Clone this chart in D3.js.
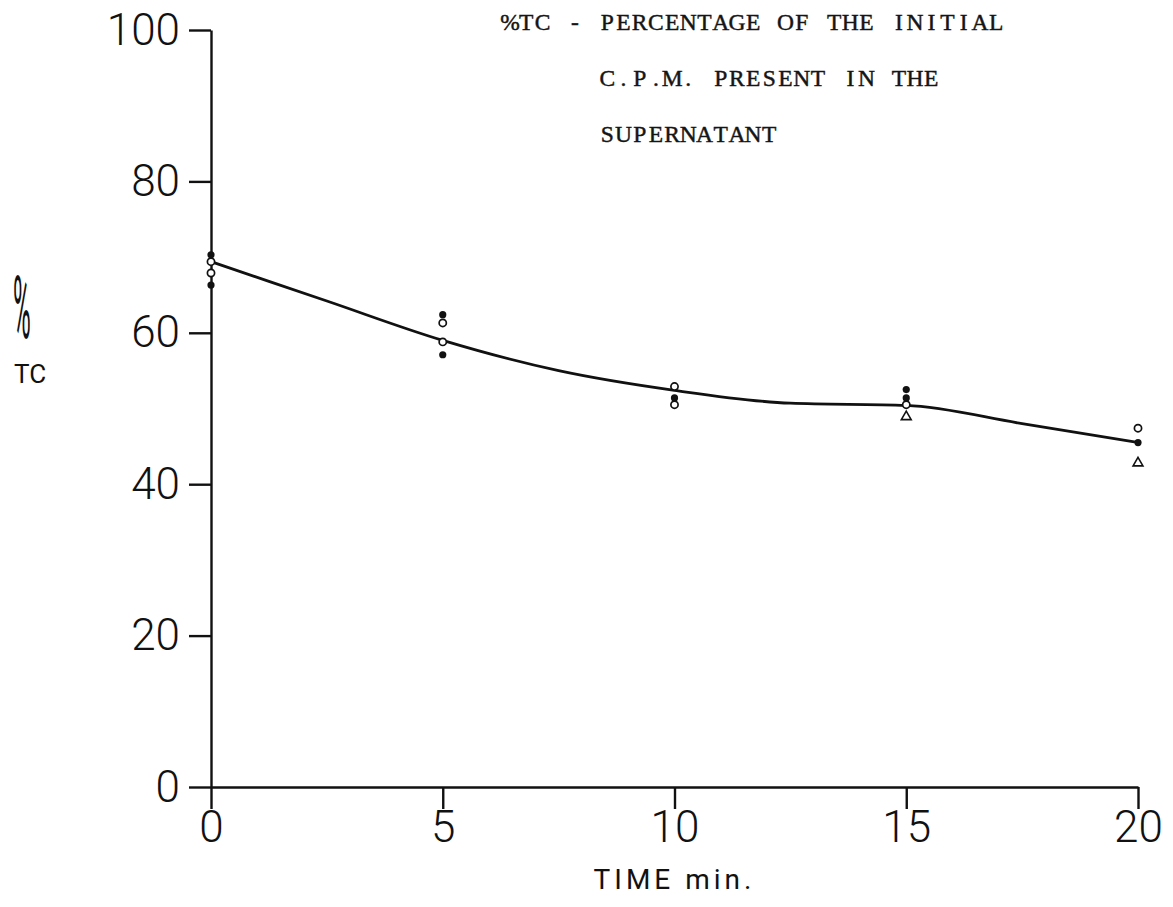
<!DOCTYPE html>
<html>
<head>
<meta charset="utf-8">
<script src="https://cdn.jsdelivr.net/npm/d3@7/dist/d3.min.js"></script>
<style>
  html, body { margin: 0; padding: 0; background: #ffffff; }
  svg { display: block; }
</style>
</head>
<body>
<script>
// Time axis (minutes) and %TC axis ticks
const timeTicks = [0, 5, 10, 15, 20];
const tcTicks = [0, 20, 40, 60, 80, 100];

// Replicate measurements, grouped by the symbol used for each
const filledPoints = [[0, 70.3], [0, 66.3], [5, 62.4], [5, 57.1], [10, 51.4], [15, 52.5], [15, 51.4], [20, 45.5]];
const openPoints = [[0, 69.4], [0, 67.9], [5, 61.3], [5, 58.8], [10, 52.9], [10, 50.5], [15, 50.5], [20, 47.4]];
const trianglePoints = [[15, 48.9], [20, 42.8]];

// Smooth curve drawn through the replicates
const fitTime = [0, 2.5, 5, 7.5, 10, 12.5, 15, 17.5, 20];
const fitValue = [69.4, 64.2, 59.0, 55.0, 52.4, 50.7, 50.4, 48.0, 45.5];

// Typed note in the top right (column-aligned like a typewriter)
const noteLines = [
  "%TC - PERCENTAGE OF THE INITIAL",
  "      C.P.M. PRESENT IN THE",
  "      SUPERNATANT"
];

const W = 1173, H = 907;
const ink = "#111";

const svg = d3.select("body").append("svg")
  .attr("width", W).attr("height", H)
  .style("background", "#fff");

const x = d3.scaleLinear().domain([0, 20]).range([211, 1138]);
const y = d3.scaleLinear().domain([0, 100]).range([787, 30]);

const labelFont = "Roboto, 'Liberation Sans', sans-serif";

// Y axis
const yAxis = svg.append("g")
  .attr("transform", `translate(${x(0)},0)`)
  .call(d3.axisLeft(y).tickValues(tcTicks).tickSize(22).tickSizeOuter(0).tickPadding(9));
yAxis.select(".domain").attr("stroke", ink).attr("stroke-width", 2.4);
yAxis.selectAll(".tick line").attr("stroke", ink).attr("stroke-width", 2.4);
yAxis.selectAll(".tick text")
  .attr("fill", ink)
  .style("font-family", labelFont)
  .style("font-weight", 300)
  .style("font-size", "44px");

// X axis
const xAxis = svg.append("g")
  .attr("transform", `translate(0,${y(0)})`)
  .call(d3.axisBottom(x).tickValues(timeTicks).tickSize(22).tickSizeOuter(0).tickPadding(2));
xAxis.select(".domain").attr("stroke", ink).attr("stroke-width", 2.4);
xAxis.selectAll(".tick line").attr("stroke", ink).attr("stroke-width", 2.4);
xAxis.selectAll(".tick text")
  .attr("fill", ink)
  .style("font-family", labelFont)
  .style("font-weight", 300)
  .style("font-size", "44px");

// Axis titles
svg.append("text")
  .attr("x", x(10)).attr("y", 889)
  .attr("text-anchor", "middle")
  .attr("fill", ink)
  .style("font-family", labelFont)
  .style("font-size", "28px")
  .style("letter-spacing", "4px")
  .text("TIME min.");

svg.append("text")
  .attr("transform", "translate(13,338) scale(0.55,2.0)")
  .attr("fill", ink)
  .style("font-family", labelFont)
  .style("font-size", "44px")
  .text("%");

svg.append("text")
  .attr("x", 14).attr("y", 383)
  .attr("fill", ink)
  .style("font-family", labelFont)
  .style("font-size", "26px")
  .text("TC");

// Fitted curve
const fit = fitTime.map((t, i) => [t, fitValue[i]]);
svg.append("path")
  .datum(fit)
  .attr("fill", "none")
  .attr("stroke", ink)
  .attr("stroke-width", 2.8)
  .attr("d", d3.line().x(d => x(d[0])).y(d => y(d[1])).curve(d3.curveMonotoneX));

// Replicate markers
svg.append("g").selectAll("circle").data(filledPoints).join("circle")
  .attr("cx", d => x(d[0])).attr("cy", d => y(d[1]))
  .attr("r", 3.6).attr("fill", ink);

svg.append("g").selectAll("circle").data(openPoints).join("circle")
  .attr("cx", d => x(d[0])).attr("cy", d => y(d[1]))
  .attr("r", 3.6).attr("fill", "#fff").attr("stroke", ink).attr("stroke-width", 1.7);

svg.append("g").selectAll("path").data(trianglePoints).join("path")
  .attr("transform", d => `translate(${x(d[0])},${y(d[1])})`)
  .attr("d", d3.symbol(d3.symbolTriangle, 42))
  .attr("fill", "#fff").attr("stroke", ink).attr("stroke-width", 1.6);

// Typed note: each character sits in a fixed-width cell
const noteLeft = 502, cell = 16.2;
svg.append("g").selectAll("text").data(noteLines).join("text")
  .attr("x", d => Array.from(d).map((c, i) => (noteLeft + cell / 2 + i * cell).toFixed(1)).join(" "))
  .attr("y", (d, i) => 30 + i * 56)
  .attr("text-anchor", "middle")
  .attr("fill", "#151515")
  .attr("stroke", "#151515")
  .attr("stroke-width", 0.45)
  .style("font-family", "'Liberation Serif', 'DejaVu Serif', serif")
  .style("font-size", "23.5px")
  .attr("xml:space", "preserve")
  .text(d => d);
</script>
</body>
</html>
